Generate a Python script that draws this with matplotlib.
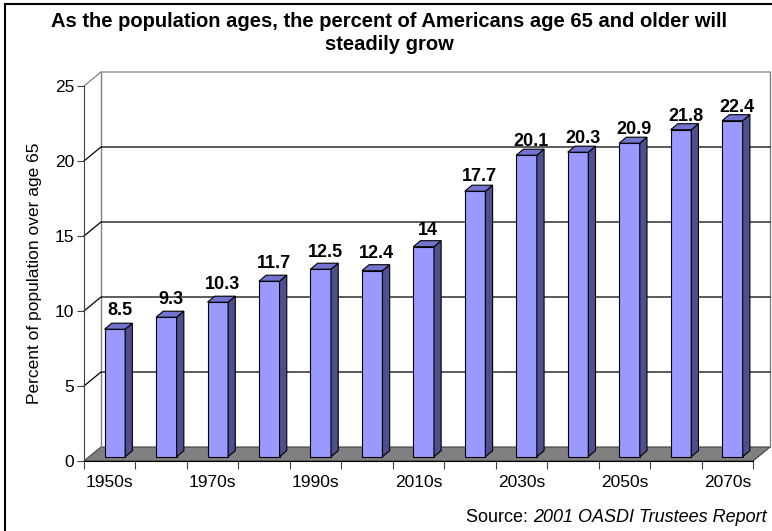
import matplotlib
matplotlib.use('Agg')
import matplotlib.pyplot as plt
from matplotlib.patches import Polygon, Rectangle
import numpy as np

plt.rcParams['font.family'] = ['Liberation Sans', 'DejaVu Sans']

decades = ['1950s', '1960s', '1970s', '1980s', '1990s', '2000s', '2010s',
           '2020s', '2030s', '2040s', '2050s', '2060s', '2070s']
pct_65 = [8.5, 9.3, 10.3, 11.7, 12.5, 12.4, 14, 17.7, 20.1, 20.3, 20.9, 21.8, 22.4]
shown_labels = ['1950s', '1970s', '1990s', '2010s', '2030s', '2050s', '2070s']
y_ticks = [0, 5, 10, 15, 20, 25]

title = 'As the population ages, the percent of Americans age 65 and older will\nsteadily grow'
ylabel = 'Percent of population over age 65'

# fake 3d geometry (in data units)
DX, DY = 0.33, 0.933        # full depth of floor / walls
BX0, BW = 0.40, 0.40        # bar front face start and width in slot
BDX, BDY = 0.14, 0.40       # bar depth
BZ = 0.287                  # bar front face lift (sits inside the floor)

c_front = '#9999ff'
c_side = '#4f4f8f'
c_top = '#7373d0'
c_floor = '#808080'

W, H = 772, 531
fig = plt.figure(figsize=(W / 100, H / 100), dpi=100)
ax = fig.add_axes([84 / W, 1 - 461 / H, 669 / W, 375 / H])
n = len(pct_65)
ax.set_xlim(0, n)
ax.set_ylim(0, 25)

# outer frame
fig.patches.append(Rectangle((5 / W, -0.1), 1.2, 1 - 4 / H + 0.1, transform=fig.transFigure,
                             fill=False, ec='black', lw=1.5))

# floor
ax.add_patch(Polygon([(0, 0), (n, 0), (n + DX, DY), (DX, DY)], closed=True,
                     fc=c_floor, ec='#404040', lw=0.8, clip_on=False, zorder=1))

# walls and gridlines
ax.plot([DX, DX], [DY, 25 + DY], color='#808080', lw=1, clip_on=False, zorder=1)
ax.plot([n + DX, n + DX], [DY, 25 + DY], color='#808080', lw=1, clip_on=False, zorder=1)
for v in y_ticks[1:]:
    col = '#808080' if v == 25 else '#000000'
    ax.plot([0, DX, n + DX], [v, v + DY, v + DY], color=col, lw=0.9,
            clip_on=False, zorder=1)

# bars
x = np.arange(n)
ax.bar(x + BX0, pct_65, width=BW, bottom=BZ, align='edge', color=c_front,
       edgecolor='black', lw=0.8, zorder=3)
for i, v in enumerate(pct_65):
    xl, xr = i + BX0, i + BX0 + BW
    yb, yt = BZ, BZ + v
    ax.add_patch(Polygon([(xr, yb), (xr + BDX, yb + BDY), (xr + BDX, yt + BDY), (xr, yt)],
                         closed=True, fc=c_side, ec='black', lw=0.8, zorder=3))
    ax.add_patch(Polygon([(xl, yt), (xr, yt), (xr + BDX, yt + BDY), (xl + BDX, yt + BDY)],
                         closed=True, fc=c_top, ec='black', lw=0.8, zorder=3, clip_on=False))
    ax.text(i + 0.69, v + 1.45 - 0.027 * v, f'{v:g}', ha='center', va='baseline',
            fontsize=13, fontweight='bold', zorder=4)

# axes
for s in ['top', 'right']:
    ax.spines[s].set_visible(False)
ax.spines['left'].set_color('#404040')
ax.spines['bottom'].set_color('black')
ax.set_yticks(y_ticks)
ax.tick_params(axis='y', length=5, labelsize=12.5, pad=2, color='#404040')
ax.set_xticks(np.arange(n + 1))
ax.set_xticklabels([])
ax.tick_params(axis='x', which='major', length=6, color='#404040')
lbl_pos = [decades.index(d) + 0.5 for d in shown_labels]
ax.set_xticks(lbl_pos, minor=True)
ax.set_xticklabels(shown_labels, minor=True)
ax.tick_params(axis='x', which='minor', length=0, labelsize=12.5, pad=10)

fig.text(35 / W, 1 - 273 / H, ylabel, rotation=90, ha='center', va='center', fontsize=12.5)
fig.text(389 / W, 1 - 12 / H, title, ha='center', va='top', fontsize=14.5,
         fontweight='bold', linespacing=1.25)

src1 = fig.text(767 / W, 1 - 522 / H, '2001 OASDI Trustees Report', ha='right',
                va='baseline', fontsize=13, style='italic')
fig.canvas.draw()
bb = src1.get_window_extent()
fig.text(bb.x0 / W, 1 - 522 / H, 'Source: ', ha='right', va='baseline', fontsize=13)

fig.savefig('out.png', dpi=100)
